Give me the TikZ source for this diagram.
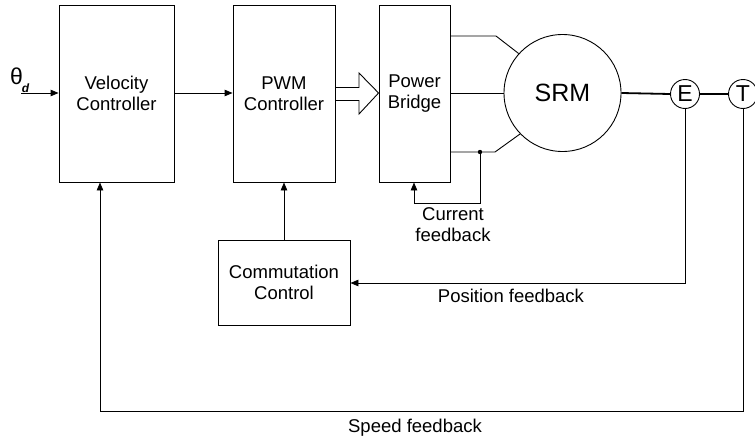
\documentclass[tikz,border=0pt]{standalone}
\usepackage{fontspec}
\setmainfont{Liberation Sans}
\usetikzlibrary{arrows.meta}
\tikzset{
  blk/.style={draw, line width=0.9pt, inner sep=0pt, align=center, font=\fontsize{18.5}{21}\selectfont},
  lbl/.style={inner sep=0pt, align=center, font=\fontsize{18.5}{21}\selectfont},
  wire/.style={line width=0.9pt},
  arr/.style={wire, -{Triangle[length=8pt,width=6.5pt]}},
  rnd/.style={draw, circle, line width=0.9pt, inner sep=0pt}
}
\begin{document}
\begin{tikzpicture}[x=1pt,y=-1pt]
\useasboundingbox (0,0) rectangle (755,439);
% blocks
\node[blk, minimum width=115pt, minimum height=177pt] (vel) at (116.5,93.5) {Velocity\\Controller};
\node[blk, minimum width=102pt, minimum height=177pt] (pwm) at (284,93.5) {PWM\\Controller};
\node[blk, minimum width=71pt, minimum height=177pt] (pb) at (414.5,93.5) {Power\\Bridge};
\node[blk, minimum width=132pt, minimum height=85pt] (com) at (284,282.5) {Commutation\\Control};
% motor and sensors
\node[rnd, minimum size=117pt, font=\fontsize{25}{25}\selectfont] (srm) at (562.5,93) {SRM};
\node[rnd, minimum size=29pt, font=\fontsize{23}{23}\selectfont] (enc) at (685,94) {E};
\node[rnd, minimum size=29pt, font=\fontsize{23}{23}\selectfont] (tac) at (743,94) {T};
% input
\node[inner sep=0pt, font=\fontsize{23}{23}\selectfont] (th) at (16.5,76) {θ};
\node[inner sep=0pt, font=\fontsize{12}{12}\selectfont\bfseries\itshape] (thd) at (25.5,88) {d};
\coordinate (in) at (21,93);
\draw[arr] (in) -- (vel.west |- in);
% velocity -> pwm
\draw[arr] (vel.east |- 0,93) -- (pwm.west |- 0,93);
% hollow arrow pwm -> bridge
\draw[line width=0.9pt, line join=miter] (pwm.east |- 0,87.5) -- (359,87.5) -- (359,73) -- (pb.west |- 0,93) -- (359,114) -- (359,100.5) -- (pwm.east |- 0,100.5);
% bridge -> motor phase lines
\coordinate (p1) at (496,36);
\coordinate (p3) at (495,152);
\draw[wire] (pb.east |- p1) -- (p1) -- (srm.138);
\draw[wire] (pb.east |- 0,93) -- (srm.west);
\draw[wire] (pb.east |- p3) -- (p3) -- (srm.224);
% shaft
\draw[line width=1.8pt] (srm.east) -- (enc.west);
\draw[line width=1.1pt] (enc.east) -- (tac.west);
% current feedback
\coordinate (cf) at (480,152);
\fill (cf) circle (2.2pt);
\coordinate (cfb) at (480,203);
\draw[arr] (cf) -- (cfb) -- (414,203) -- (pb.south -| 414,0);
\node[lbl] (cft) at (453,225) {Current\\feedback};
% commutation -> pwm
\draw[arr] (com.north) -- (pwm.south);
% position feedback
\coordinate (pf) at (685,283);
\draw[arr] (enc.south) -- (pf) -- (com.east |- pf);
\node[lbl] (pft) at (511,296) {Position feedback};
% speed feedback
\coordinate (sf1) at (743,411);
\coordinate (sf2) at (100,411);
\draw[arr] (tac.south) -- (sf1) -- (sf2) -- (vel.south -| sf2);
\node[lbl] (sft) at (415,428) {Speed feedback};
\end{tikzpicture}
\end{document}
